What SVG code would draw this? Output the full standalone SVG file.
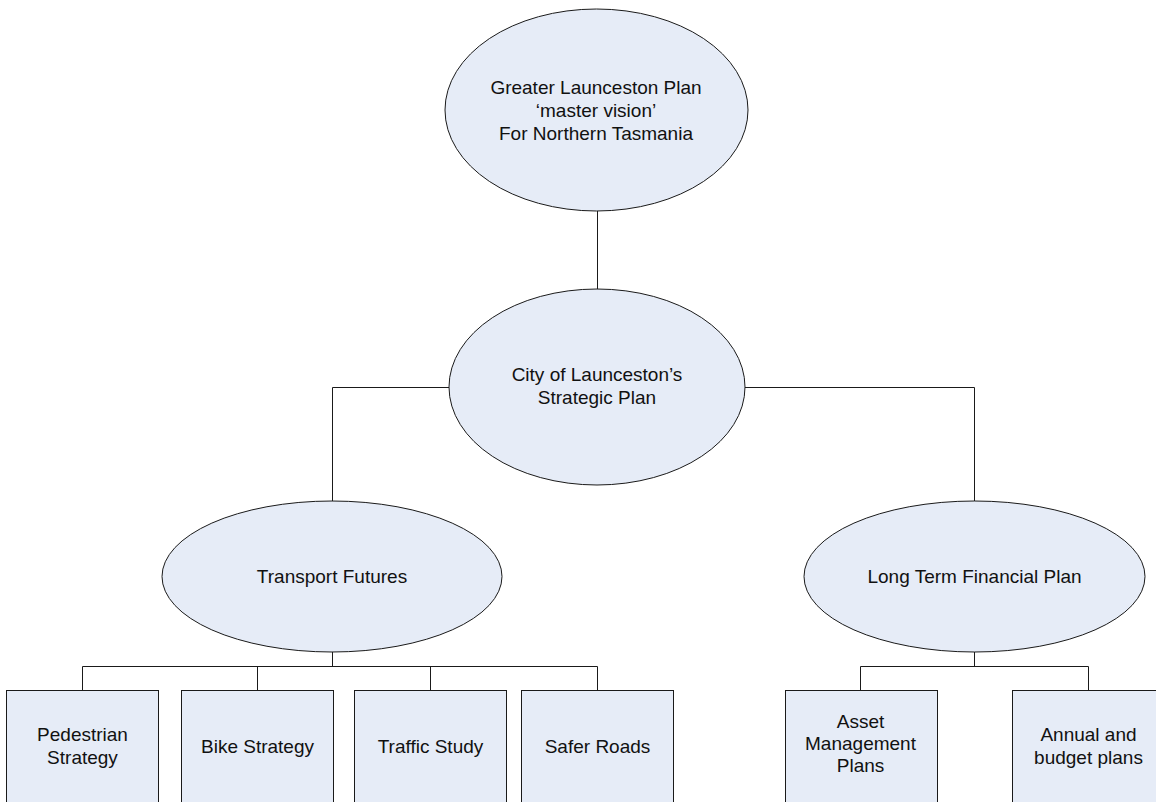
<svg xmlns="http://www.w3.org/2000/svg" width="1156" height="802" viewBox="0 0 1156 802">
<style>
.n{fill:#E6ECF7;stroke:#1a1a1a;stroke-width:1}
.c{fill:none;stroke:#1a1a1a;stroke-width:1}
.t{font-family:"Liberation Sans",Arial,sans-serif;font-size:19px;fill:#111;text-anchor:middle}
</style>
<rect width="1156" height="802" fill="#fff"/>
<g id="connectors">
<path class="c" d="M597.5 211V289"/>
<path class="c" d="M449 387.5H332.5V501"/>
<path class="c" d="M745 387.5H974.5V501"/>
<path class="c" d="M332.5 652V666.5M82.5 690V666.5H597.5V690M257.5 666.5V690M430.5 666.5V690"/>
<path class="c" d="M974.5 652V666.5M860.5 690V666.5H1088.5V690"/>
</g>
<g id="greater-launceston">
<ellipse class="n" cx="596.5" cy="110" rx="151.5" ry="101"/>
<text class="t" x="596" y="94">Greater Launceston Plan</text>
<text class="t" x="596" y="117">‘master vision’</text>
<text class="t" x="596" y="140">For Northern Tasmania</text>
</g>
<g id="city-strategic">
<ellipse class="n" cx="597" cy="387" rx="148" ry="98"/>
<text class="t" x="597" y="381">City of Launceston’s</text>
<text class="t" x="597" y="404">Strategic Plan</text>
</g>
<g id="transport-futures">
<ellipse class="n" cx="332" cy="576.5" rx="170" ry="75.5"/>
<text class="t" x="332" y="583">Transport Futures</text>
</g>
<g id="long-term-financial">
<ellipse class="n" cx="974.5" cy="576.5" rx="170.5" ry="75.5"/>
<text class="t" x="974.5" y="583">Long Term Financial Plan</text>
</g>
<g id="pedestrian">
<rect class="n" x="6.5" y="690.5" width="152" height="115"/>
<text class="t" x="82.5" y="741">Pedestrian</text>
<text class="t" x="82.5" y="764">Strategy</text>
</g>
<g id="bike">
<rect class="n" x="181.5" y="690.5" width="152" height="115"/>
<text class="t" x="257.5" y="753">Bike Strategy</text>
</g>
<g id="traffic">
<rect class="n" x="354.5" y="690.5" width="152" height="115"/>
<text class="t" x="430.5" y="753">Traffic Study</text>
</g>
<g id="safer-roads">
<rect class="n" x="521.5" y="690.5" width="152" height="115"/>
<text class="t" x="597.5" y="753">Safer Roads</text>
</g>
<g id="asset-management">
<rect class="n" x="785.5" y="690.5" width="152" height="115"/>
<text class="t" x="860.5" y="728">Asset</text>
<text class="t" x="860.5" y="750">Management</text>
<text class="t" x="860.5" y="772">Plans</text>
</g>
<g id="annual-budget">
<rect class="n" x="1012.5" y="690.5" width="152" height="115"/>
<text class="t" x="1088.5" y="741">Annual and</text>
<text class="t" x="1088.5" y="764">budget plans</text>
</g>
</svg>
